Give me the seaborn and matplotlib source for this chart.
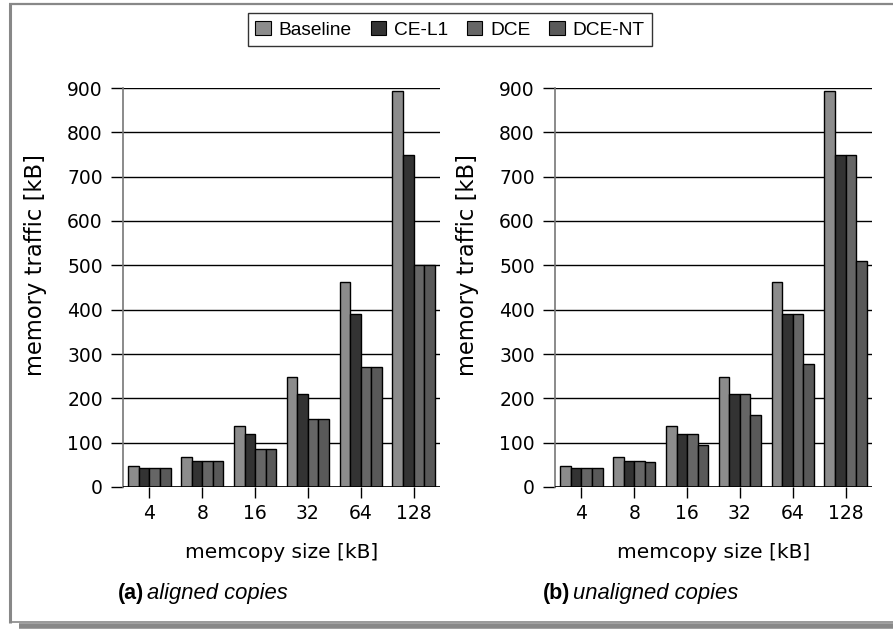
"""
Memory traffic of memcopy variants, aligned vs. unaligned copies
"""

import numpy as np
import pandas as pd
import matplotlib
matplotlib.use('Agg')
import matplotlib.pyplot as plt
import seaborn as sns
from matplotlib.patches import Rectangle

sizes = ['4', '8', '16', '32', '64', '128']
variants = ['Baseline', 'CE-L1', 'DCE', 'DCE-NT']

# memory traffic [kB], one list per variant
aligned_baseline = [48, 67, 138, 247, 462, 893]
aligned_ce_l1 = [43, 58, 120, 210, 390, 750]
aligned_dce = [43, 58, 86, 154, 270, 500]
aligned_dce_nt = [43, 58, 86, 154, 270, 500]

unaligned_baseline = [48, 67, 138, 247, 462, 893]
unaligned_ce_l1 = [43, 58, 120, 210, 390, 750]
unaligned_dce = [43, 58, 120, 210, 390, 750]
unaligned_dce_nt = [43, 57, 94, 163, 278, 510]

colors = ['#8c8c8c', '#333333', '#666666', '#595959']

W, H = 893, 629
CAP_FONT = ['Liberation Sans', 'DejaVu Sans']


def to_frame(series):
    rows = []
    for name, vals in zip(variants, series):
        for s, v in zip(sizes, vals):
            rows.append({'size': s, 'variant': name, 'traffic': v})
    return pd.DataFrame(rows)


def draw_panel(ax, df):
    sns.barplot(data=df, x='size', y='traffic', hue='variant', order=sizes,
                hue_order=variants, palette=colors, width=0.8,
                edgecolor='black', linewidth=1.0, saturation=1, ax=ax,
                legend=False)
    ax.set_ylim(0, 900)
    ax.set_xlim(-0.5, 5.5)
    ax.set_yticks(np.arange(0, 1000, 100))
    ax.yaxis.grid(True, color='black', linewidth=1.0)
    ax.set_axisbelow(True)
    for side in ['top', 'right', 'bottom']:
        ax.spines[side].set_visible(False)
    ax.spines['left'].set_color('#777777')
    ax.spines['left'].set_linewidth(1.2)
    ax.axhline(0, color='black', linewidth=1.2, zorder=5)
    ax.tick_params(axis='x', bottom=True, length=8, width=1, color='black',
                   labelcolor='black', labelsize=13.5, pad=4.5)
    ax.tick_params(axis='y', left=True, length=8.5, width=1, color='black',
                   labelcolor='black', labelsize=13.5, pad=6)
    ax.set_xlabel('memcopy size [kB]', fontsize=14.5, color='black')
    ax.xaxis.set_label_coords(0.5, -56 / 399)
    ax.set_ylabel('memory traffic [kB]', fontsize=16.3, color='black')
    ax.yaxis.set_label_coords(-76 / 317, 222 / 399)


sns.set_theme(style='white')
plt.rcParams['font.family'] = ['DejaVu Sans']

fig = plt.figure(figsize=(W / 100, H / 100), dpi=100)
ax1 = fig.add_axes([123 / W, 1 - 487 / H, 317 / W, 399 / H])
ax2 = fig.add_axes([555 / W, 1 - 487 / H, 317 / W, 399 / H])

draw_panel(ax1, to_frame([aligned_baseline, aligned_ce_l1, aligned_dce, aligned_dce_nt]))
draw_panel(ax2, to_frame([unaligned_baseline, unaligned_ce_l1, unaligned_dce, unaligned_dce_nt]))

# captions
cap_y = 1 - 593 / H
fig.text(118 / W, cap_y, '(a)', fontsize=15.5, fontweight='bold', family=CAP_FONT,
         va='center', color='black')
fig.text(147 / W, cap_y, 'aligned copies', fontsize=15.8, style='italic', family=CAP_FONT,
         va='center', color='black')
fig.text(543 / W, cap_y, '(b)', fontsize=15.5, fontweight='bold', family=CAP_FONT,
         va='center', color='black')
fig.text(573 / W, cap_y, 'unaligned copies', fontsize=15.8, style='italic', family=CAP_FONT,
         va='center', color='black')

# shared legend
handles = [Rectangle((0, 0), 1, 1, facecolor=c, edgecolor='black', linewidth=0.8) for c in colors]
leg = fig.legend(handles, variants, loc='upper center', bbox_to_anchor=(450 / W, 1 - 13 / H),
                 ncol=4, frameon=True, fancybox=False, borderaxespad=0,
                 handlelength=0.8, handleheight=0.8, handletextpad=0.4,
                 columnspacing=1.0, borderpad=0.4,
                 prop={'family': CAP_FONT, 'size': 13.8})
leg.get_frame().set_edgecolor('black')
leg.get_frame().set_linewidth(1.0)
for txt in leg.get_texts():
    txt.set_color('black')


# page frame with shadow (pixel coordinates)
def px_line(x0, y0, x1, y1, lw):
    fig.add_artist(plt.Line2D([x0 / W, x1 / W], [1 - y0 / H, 1 - y1 / H],
                              transform=fig.transFigure, color='#888888',
                              linewidth=lw, solid_capstyle='butt'))


px_line(9.5, 3, 9.5, 623, 2.2)
px_line(8.5, 4, W, 4, 1.6)
px_line(8.5, 622, W, 622, 1.2)
px_line(19, 625.5, W, 625.5, 4.0)

fig.savefig('out.png', dpi=100)
